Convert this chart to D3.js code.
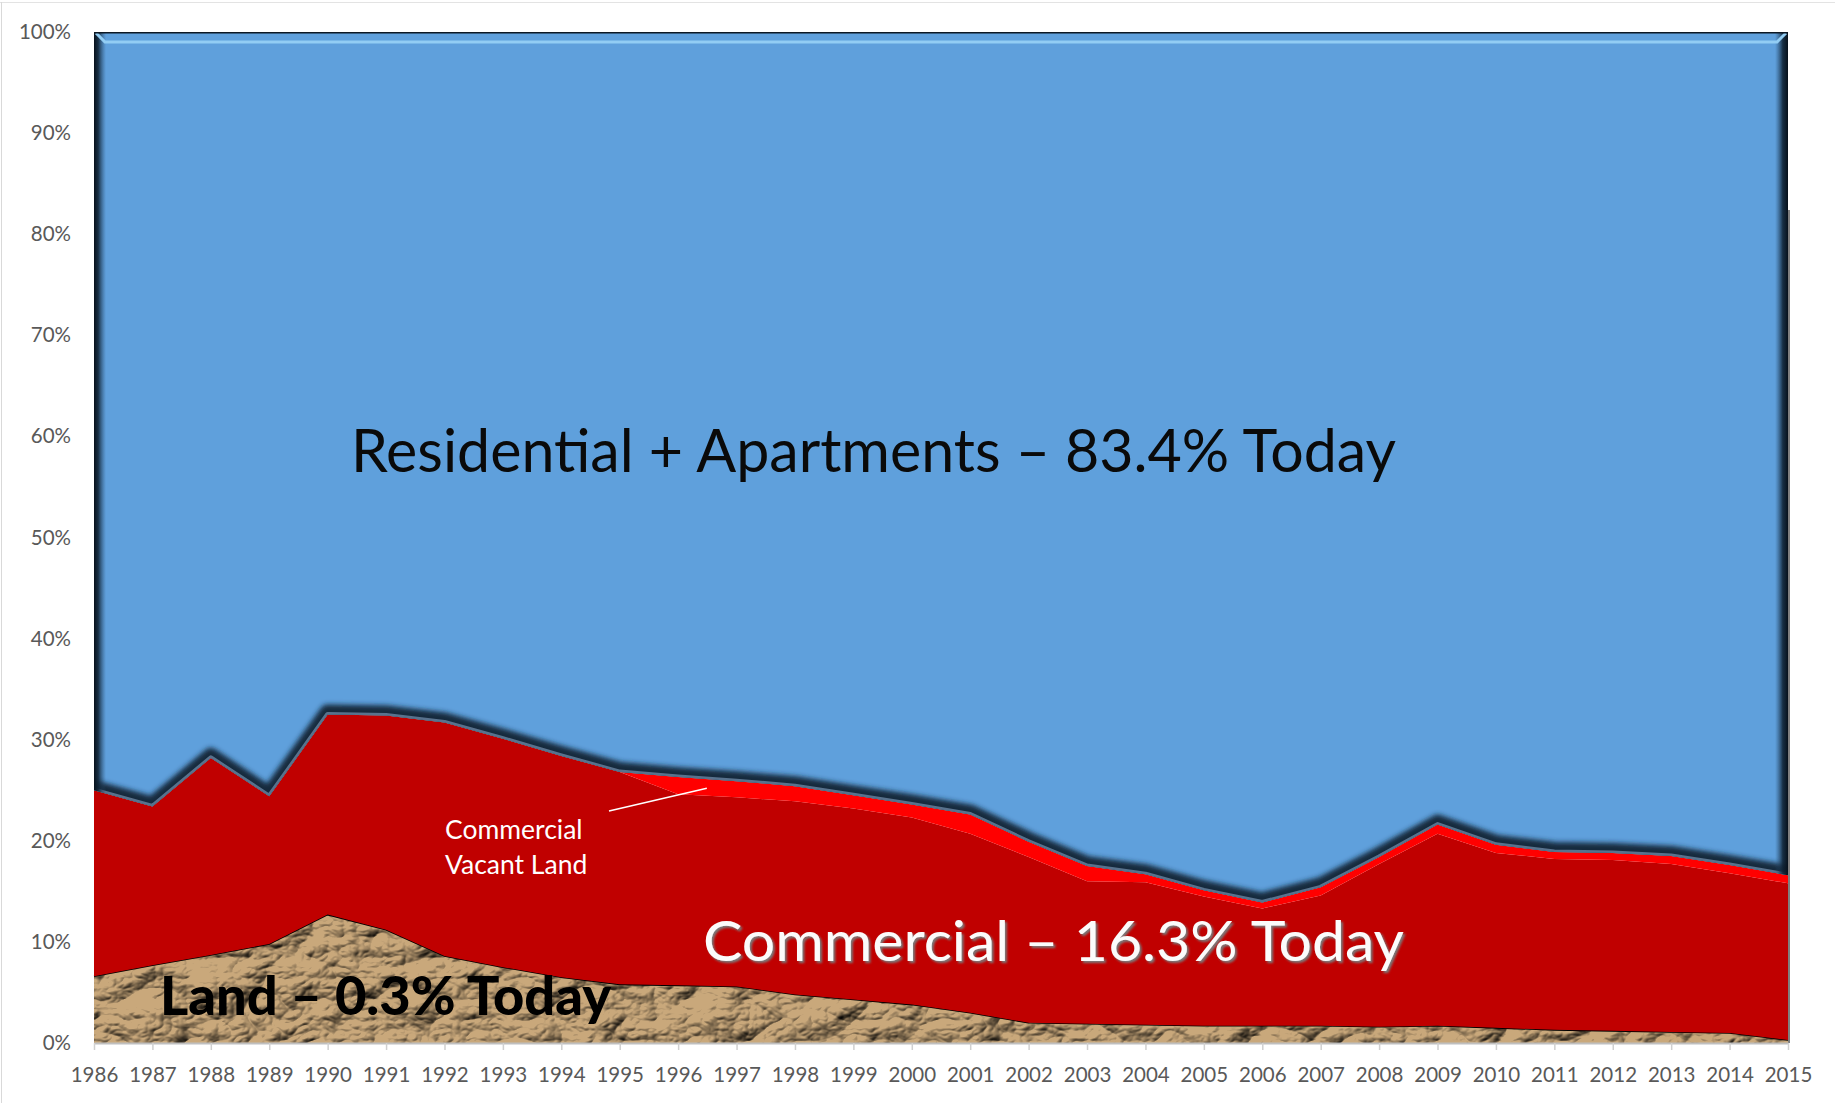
<!DOCTYPE html>
<html>
<head>
<meta charset="utf-8">
<script src="https://cdn.jsdelivr.net/npm/d3@7"></script>
<style>
  html, body { margin: 0; padding: 0; background: #ffffff; }
  svg { display: block; }
</style>
</head>
<body>
<svg id="chart" width="1835" height="1103"></svg>
<script>
// Share of assessed value by property class, 1986-2015 (percent of total)
const years = [1986, 1987, 1988, 1989, 1990, 1991, 1992, 1993, 1994, 1995,
               1996, 1997, 1998, 1999, 2000, 2001, 2002, 2003, 2004, 2005,
               2006, 2007, 2008, 2009, 2010, 2011, 2012, 2013, 2014, 2015];

const landShare = [6.6, 7.7, 8.7, 9.8, 12.7, 11.2, 8.6, 7.5, 6.5, 5.8,
                   5.7, 5.6, 4.8, 4.3, 3.8, 3.0, 2.0, 1.9, 1.8, 1.7,
                   1.7, 1.7, 1.6, 1.7, 1.5, 1.3, 1.2, 1.1, 1.0, 0.3];

const commercialShare = [18.4, 15.7, 19.5, 14.6, 19.8, 21.2, 23.1, 22.6, 21.9, 21.0,
                         18.9, 18.7, 19.1, 18.9, 18.5, 17.7, 16.4, 14.1, 14.1, 12.8,
                         11.6, 12.9, 16.1, 19.0, 17.3, 16.9, 16.9, 16.6, 15.8, 15.5];

const vacantShare = [0, 0, 0, 0, 0, 0, 0, 0, 0, 0,
                     1.7, 1.6, 1.5, 1.3, 1.3, 1.9, 1.5, 1.5, 0.8, 0.6,
                     0.6, 0.8, 0.7, 0.9, 0.8, 0.7, 0.7, 0.8, 0.8, 0.8];

const residentialShare = [75.0, 76.6, 71.8, 75.6, 67.5, 67.6, 68.3, 69.9, 71.6, 73.2,
                          73.7, 74.1, 74.6, 75.5, 76.4, 77.4, 80.1, 82.5, 83.3, 84.9,
                          86.1, 84.6, 81.6, 78.4, 80.4, 81.1, 81.2, 81.5, 82.4, 83.4];

const yTickValues = [0, 10, 20, 30, 40, 50, 60, 70, 80, 90, 100];
const yTickLabels = ["0%", "10%", "20%", "30%", "40%", "50%", "60%", "70%", "80%", "90%", "100%"];

const seriesKeys = ["land", "commercial", "vacant", "residential"];

// ---- layout ----
const W = 1835, H = 1103;
const plot = { left: 94, right: 1788, top: 32, bottom: 1043 };

const svg = d3.select("#chart");
const defs = svg.append("defs");

const x = d3.scaleLinear().domain([years[0], years[years.length - 1]]).range([plot.left, plot.right]);
const y = d3.scaleLinear().domain([0, 100]).range([plot.bottom, plot.top]);

const rows = years.map((yr, i) => ({
  year: yr,
  land: landShare[i],
  commercial: commercialShare[i],
  vacant: vacantShare[i],
  residential: residentialShare[i]
}));

const stacked = d3.stack().keys(seriesKeys)(rows);
const byKey = {};
stacked.forEach(s => { byKey[s.key] = s; });

const area = d3.area()
  .x(d => x(d.data.year))
  .y0(d => y(d[0]))
  .y1(d => y(d[1]));

const topLine = d3.line().x(d => x(d.data.year)).y(d => y(d[1]));
const bottomLine = d3.line().x(d => x(d.data.year)).y(d => y(d[0]));

// ---- frame lines of the picture ----
svg.append("line").attr("x1", 0).attr("x2", W).attr("y1", 2.5).attr("y2", 2.5)
  .attr("stroke", "#e3e3e3").attr("stroke-width", 1);
svg.append("line").attr("x1", 1.5).attr("x2", 1.5).attr("y1", 2).attr("y2", H)
  .attr("stroke", "#d9d9d9").attr("stroke-width", 1);

// ---- defs: clips, texture, gradients, filters ----
defs.append("clipPath").attr("id", "landClip")
  .append("path").attr("d", area(byKey.land));
defs.append("clipPath").attr("id", "blueClip")
  .append("path").attr("d", area(byKey.residential));

// crumpled, rocky texture for the land layer
const tex = defs.append("filter").attr("id", "crumple")
  .attr("filterUnits", "userSpaceOnUse")
  .attr("x", plot.left).attr("y", 880).attr("width", plot.right - plot.left).attr("height", 170)
  .attr("color-interpolation-filters", "sRGB");
tex.append("feTurbulence").attr("type", "turbulence")
  .attr("baseFrequency", "0.016 0.024").attr("numOctaves", 4).attr("seed", 23).attr("result", "n");
const lit = tex.append("feDiffuseLighting").attr("in", "n")
  .attr("surfaceScale", 6).attr("diffuseConstant", 1.3)
  .attr("lighting-color", "#ffffff").attr("result", "lit");
lit.append("feDistantLight").attr("azimuth", 235).attr("elevation", 46);
tex.append("feFlood").attr("flood-color", "#c9a87b").attr("result", "base");
tex.append("feBlend").attr("in", "lit").attr("in2", "base").attr("mode", "multiply");

const soft = defs.append("filter").attr("id", "soft").attr("x", "-5%").attr("y", "-50%")
  .attr("width", "110%").attr("height", "200%");
soft.append("feGaussianBlur").attr("stdDeviation", 2.4);

// embossed white lettering
const emboss = defs.append("filter").attr("id", "emboss").attr("x", "-5%").attr("y", "-20%")
  .attr("width", "110%").attr("height", "150%");
emboss.append("feOffset").attr("in", "SourceAlpha").attr("dx", 1.6).attr("dy", 2).attr("result", "off");
emboss.append("feGaussianBlur").attr("in", "off").attr("stdDeviation", 0.8).attr("result", "offb");
emboss.append("feFlood").attr("flood-color", "#7a7a7a").attr("result", "fl");
emboss.append("feComposite").attr("in", "fl").attr("in2", "offb").attr("operator", "in").attr("result", "sh");
const em = emboss.append("feMerge");
em.append("feMergeNode").attr("in", "sh");
em.append("feMergeNode").attr("in", "SourceGraphic");

const gl = defs.append("linearGradient").attr("id", "edgeL").attr("x1", 0).attr("x2", 1);
gl.append("stop").attr("offset", 0).attr("stop-color", "#07111b").attr("stop-opacity", 1);
gl.append("stop").attr("offset", 0.35).attr("stop-color", "#0f2233").attr("stop-opacity", 0.9);
gl.append("stop").attr("offset", 1).attr("stop-color", "#2a4d6e").attr("stop-opacity", 0);
const gr = defs.append("linearGradient").attr("id", "edgeR").attr("x1", 0).attr("x2", 1);
gr.append("stop").attr("offset", 0).attr("stop-color", "#2a4d6e").attr("stop-opacity", 0);
gr.append("stop").attr("offset", 0.6).attr("stop-color", "#0f2233").attr("stop-opacity", 0.9);
gr.append("stop").attr("offset", 1).attr("stop-color", "#07111b").attr("stop-opacity", 1);

// ---- land layer ----
svg.append("rect")
  .attr("x", plot.left).attr("y", 880).attr("width", plot.right - plot.left).attr("height", 170)
  .attr("fill", "#b59a74")
  .attr("filter", "url(#crumple)")
  .attr("clip-path", "url(#landClip)");
svg.append("path").attr("d", topLine(byKey.land))
  .attr("fill", "none").attr("stroke", "#000").attr("stroke-width", 1.6);

// ---- commercial layers ----
svg.append("path").attr("d", area(byKey.commercial)).attr("fill", "#c00000");
svg.append("path").attr("d", area(byKey.vacant)).attr("fill", "#ff0000");

// right-hand plot border
svg.append("line").attr("x1", plot.right + 1).attr("x2", plot.right + 1)
  .attr("y1", 210).attr("y2", plot.bottom)
  .attr("stroke", "#7f7f7f").attr("stroke-width", 2);

// ---- residential layer with bevelled edges ----
const blue = svg.append("g").attr("clip-path", "url(#blueClip)");
blue.append("path").attr("d", area(byKey.residential)).attr("fill", "#5fa0dc");
blue.append("path").attr("d", bottomLine(byKey.residential))
  .attr("fill", "none").attr("stroke", "#172a3c").attr("stroke-width", 16)
  .attr("stroke-linejoin", "round")
  .attr("transform", "translate(0,-2)")
  .attr("filter", "url(#soft)");
blue.append("path").attr("d", bottomLine(byKey.residential))
  .attr("fill", "none").attr("stroke", "#58728d").attr("stroke-width", 5)
  .attr("stroke-linejoin", "round");
blue.append("rect").attr("x", plot.left).attr("y", plot.top)
  .attr("width", 12).attr("height", plot.bottom - plot.top).attr("fill", "url(#edgeL)");
blue.append("rect").attr("x", plot.right - 13).attr("y", plot.top)
  .attr("width", 13).attr("height", plot.bottom - plot.top).attr("fill", "url(#edgeR)");
blue.append("path")
  .attr("d", `M${plot.left + 2},${plot.top + 1} L${plot.left + 11},${plot.top + 10} L${plot.right - 11},${plot.top + 10} L${plot.right - 2},${plot.top + 1}`)
  .attr("fill", "none").attr("stroke", "#92cdf4").attr("stroke-width", 3);
blue.append("line").attr("x1", plot.left).attr("x2", plot.right)
  .attr("y1", plot.top + 0.5).attr("y2", plot.top + 0.5)
  .attr("stroke", "#0c1824").attr("stroke-width", 2);

// ---- axes ----
const fmtYear = d3.format("d");
const xAxis = d3.axisBottom(x).tickValues(years).tickFormat(fmtYear)
  .tickSize(7).tickSizeOuter(0).tickPadding(17);
const gx = svg.append("g").attr("transform", `translate(0,${plot.bottom})`).call(xAxis);
gx.select(".domain").attr("stroke", "#bfbfbf").attr("stroke-width", 2);
gx.selectAll(".tick line").attr("stroke", "#d0d0d0").attr("stroke-width", 1.5);
gx.selectAll(".tick text")
  .attr("font-family", "Lato, 'Open Sans', sans-serif").attr("font-size", 20.5)
  .attr("fill", "#595959");

const yAxis = d3.axisLeft(y).tickValues(yTickValues)
  .tickFormat((d, i) => yTickLabels[i]).tickSize(0).tickPadding(23);
const gy = svg.append("g").attr("transform", `translate(${plot.left},0)`).call(yAxis);
gy.select(".domain").remove();
gy.selectAll(".tick text")
  .attr("font-family", "Lato, 'Open Sans', sans-serif").attr("font-size", 20.5)
  .attr("fill", "#595959");

// ---- annotations ----
const last = years.length - 1;
const pct = d3.format(".1f");
const resText = `Residential + Apartments – ${pct(residentialShare[last])}% Today`;
const comText = `Commercial – ${pct(commercialShare[last] + vacantShare[last])}% Today`;
const landText = `Land – ${pct(landShare[last])}% Today`;

svg.append("text").text(resText)
  .attr("x", 351).attr("y", 472)
  .attr("font-family", "Lato, 'Open Sans', sans-serif").attr("font-size", 60)
  .attr("textLength", 1045).attr("lengthAdjust", "spacingAndGlyphs")
  .attr("fill", "#0a0a0a");

svg.append("text").text(comText)
  .attr("x", 703).attr("y", 961)
  .attr("font-family", "Lato, 'Open Sans', sans-serif").attr("font-size", 57)
  .attr("textLength", 701).attr("lengthAdjust", "spacingAndGlyphs")
  .attr("fill", "#fbfbfb").attr("filter", "url(#emboss)");

svg.append("text").text(landText)
  .attr("x", 160).attr("y", 1015)
  .attr("font-family", "Lato, 'Open Sans', sans-serif").attr("font-weight", 900).attr("font-size", 54)
  .attr("textLength", 451).attr("lengthAdjust", "spacingAndGlyphs")
  .attr("fill", "#000");

const vac = svg.append("text")
  .attr("font-family", "Lato, 'Open Sans', sans-serif").attr("font-size", 26.5)
  .attr("fill", "#ffffff");
vac.append("tspan").attr("x", 445).attr("y", 839).text("Commercial");
vac.append("tspan").attr("x", 445).attr("y", 874).text("Vacant Land");

// leader from the label to the vacant-land band (1996-1997)
const leadYear = (years[10] + years[11]) / 2;
const leadVal = byKey.vacant[10][0] + 0.6;
svg.append("line")
  .attr("x1", 609).attr("y1", 811)
  .attr("x2", x(leadYear) - 0.5).attr("y2", y(leadVal))
  .attr("stroke", "#ffffff").attr("stroke-width", 1.5);
</script>
</body>
</html>
